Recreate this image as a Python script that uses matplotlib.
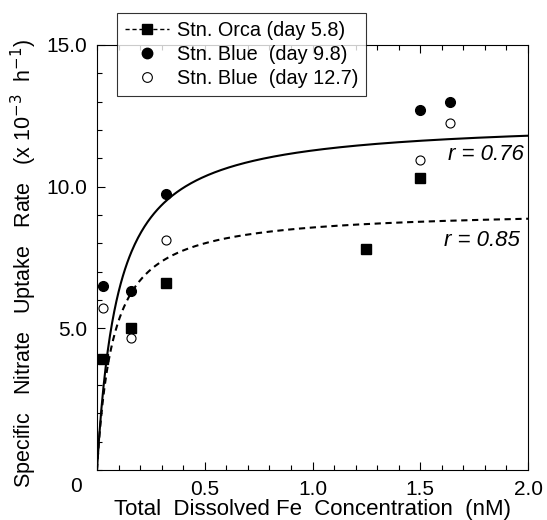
import numpy as np
import matplotlib
matplotlib.use("Agg")
import matplotlib.pyplot as plt
from matplotlib.ticker import MultipleLocator, FixedLocator
from matplotlib.lines import Line2D

plt.rcParams['font.family'] = ['Liberation Sans', 'DejaVu Sans']

# data
orca_fe = [0.03, 0.16, 0.32, 1.25, 1.50]
orca_rate = [3.9, 5.0, 6.6, 7.8, 10.3]
blue98_fe = [0.03, 0.16, 0.32, 1.50, 1.64]
blue98_rate = [6.5, 6.3, 9.75, 12.7, 13.0]
blue127_fe = [0.03, 0.16, 0.32, 1.50, 1.64]
blue127_rate = [5.7, 4.65, 8.1, 10.95, 12.25]

# Michaelis-Menten fits (Vmax, Ks)
fit_blue = (12.37, 0.097)
fit_orca = (9.2, 0.075)

fig = plt.figure(figsize=(5.47, 5.20), dpi=100)
ax = fig.add_axes([0.1773, 0.0962, 0.7880, 0.8173])

xx = np.linspace(0, 2.0, 400)
ax.plot(xx, fit_blue[0]*xx/(fit_blue[1]+xx), color='black', lw=1.5)
ax.plot(xx, fit_orca[0]*xx/(fit_orca[1]+xx), color='black', lw=1.5, dashes=(3, 2.2))

ax.plot(orca_fe, orca_rate, 's', color='black', ms=6.5, ls='none')
ax.plot(blue98_fe, blue98_rate, 'o', color='black', ms=7, ls='none')
ax.plot(blue127_fe, blue127_rate, 'o', mfc='white', mec='black', mew=0.8, ms=6.5, ls='none')

ax.text(1.98, 11.15, 'r = 0.76', style='italic', fontsize=16, ha='right', va='center')
ax.text(1.96, 8.1, 'r = 0.85', style='italic', fontsize=16, ha='right', va='center')

ax.set_xlim(0, 2.0)
ax.set_ylim(0, 15)
ax.xaxis.set_major_locator(FixedLocator([0.5, 1.0, 1.5, 2.0]))
ax.xaxis.set_minor_locator(MultipleLocator(0.1))
ax.yaxis.set_major_locator(FixedLocator([5, 10, 15]))
ax.yaxis.set_minor_locator(MultipleLocator(1))
ax.set_xticklabels(['0.5', '1.0', '1.5', '2.0'])
ax.set_yticklabels(['5.0', '10.0', '15.0'])
ax.tick_params(which='both', direction='in', top=True, right=False, width=0.8, labelsize=15)
ax.tick_params(which='major', length=6, pad=7)
ax.tick_params(which='minor', length=3.5)
for s in ax.spines.values():
    s.set_linewidth(0.8)
ax.annotate('0', xy=(0, 0), xytext=(-15, -12), textcoords='offset points',
            fontsize=15, ha='center', va='center')

ax.set_xlabel('Total  Dissolved Fe  Concentration  (nM)', fontsize=16, labelpad=0)
ax.set_ylabel('Specific   Nitrate   Uptake   Rate   (x 10$^{-3}$  h$^{-1}$)', fontsize=15.5, labelpad=8)
ax.yaxis.set_label_coords(-0.135, 0.485)

handles = [
    Line2D([], [], color='black', lw=1.0, dashes=(3, 2), marker='s', ms=7),
    Line2D([], [], color='black', ls='none', marker='o', ms=7.5),
    Line2D([], [], color='black', ls='none', marker='o', mfc='white', mew=0.8, ms=7),
]
labels = ['Stn. Orca (day 5.8)', 'Stn. Blue  (day 9.8)', 'Stn. Blue  (day 12.7)']
leg = fig.legend(handles, labels, loc='upper left', bbox_to_anchor=(0.214, 0.975),
                 fontsize=14.3, frameon=True, fancybox=False, edgecolor='black',
                 handlelength=2.2, handletextpad=0.4, borderpad=0.4, labelspacing=0.25,
                 borderaxespad=0)
leg.get_frame().set_linewidth(0.8)

fig.savefig('out.png', dpi=100)
